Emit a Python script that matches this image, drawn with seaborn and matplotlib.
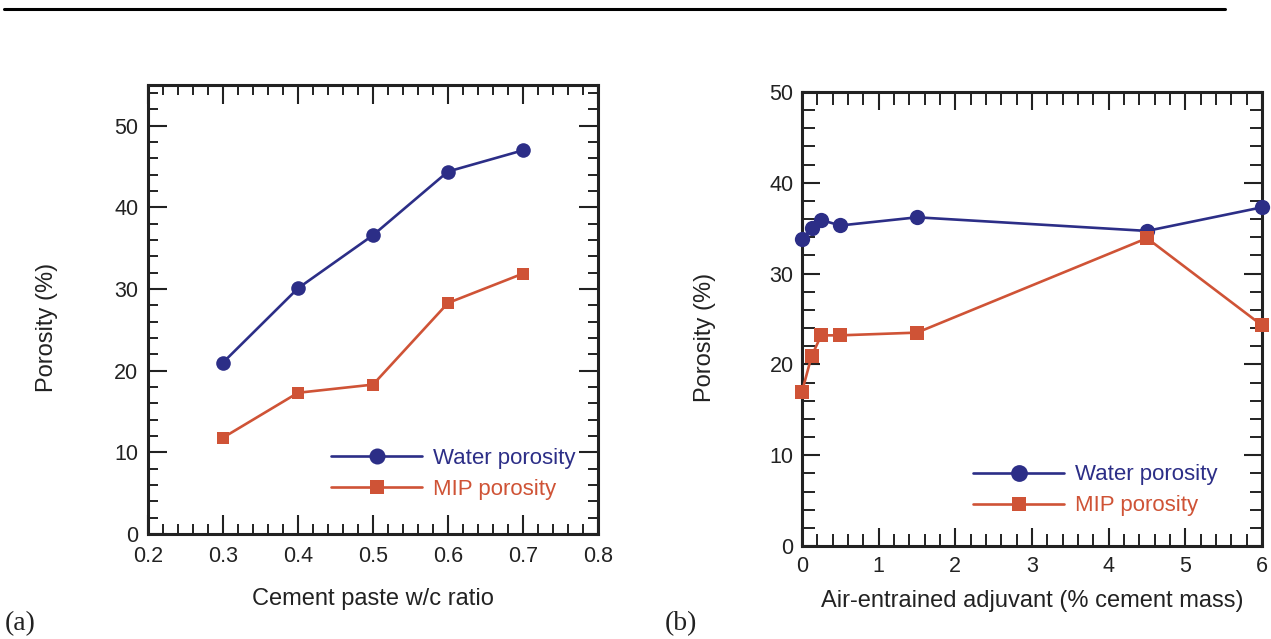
import matplotlib
matplotlib.use("Agg")
import matplotlib.pyplot as plt
from matplotlib.ticker import MultipleLocator
from matplotlib.lines import Line2D
import seaborn as sns
import pandas as pd

# ---- data ----
wc_ratio = [0.3, 0.4, 0.5, 0.6, 0.7]
water_a = [21.0, 30.1, 36.6, 44.4, 47.0]
mip_a = [11.8, 17.3, 18.3, 28.3, 31.9]

adjuvant = [0.0, 0.125, 0.25, 0.5, 1.5, 4.5, 6.0]
water_b = [33.8, 35.0, 35.9, 35.3, 36.2, 34.7, 37.3]
mip_b = [17.0, 20.9, 23.2, 23.2, 23.5, 33.9, 24.3]

series_labels = ["Water porosity", "MIP porosity"]
xlabel_a = "Cement paste w/c ratio"
xlabel_b = "Air-entrained adjuvant (% cement mass)"
ylabel = "Porosity (%)"

BLUE = "#2c2e87"
RED = "#cf5336"
INK = "#222222"

sns.set_theme(style="ticks")
plt.rcParams["font.family"] = ["Liberation Sans", "DejaVu Sans"]

W, H = 1271, 639
fig = plt.figure(figsize=(W / 100, H / 100), dpi=100)

def px_axes(x0, y0, x1, y1):
    return fig.add_axes([x0 / W, 1 - y1 / H, (x1 - x0) / W, (y1 - y0) / H])

ax1 = px_axes(148, 85, 598, 534)
ax2 = px_axes(802, 92, 1262, 546)

def draw(ax, x, w, m, ms_c, ms_s):
    df = pd.DataFrame({"x": x, "w": w, "m": m})
    sns.lineplot(data=df, x="x", y="w", ax=ax, color=BLUE, marker="o",
                 markersize=ms_c, markeredgecolor=BLUE, markeredgewidth=0,
                 linewidth=1.9, label=series_labels[0], clip_on=False, zorder=3)
    sns.lineplot(data=df, x="x", y="m", ax=ax, color=RED, marker="s",
                 markersize=ms_s, markeredgecolor=RED, markeredgewidth=0,
                 linewidth=1.9, label=series_labels[1], clip_on=False, zorder=3)

draw(ax1, wc_ratio, water_a, mip_a, 10.5, 9)
draw(ax2, adjuvant, water_b, mip_b, 11, 9.5)

# axis 1
ax1.set_xlim(0.2, 0.8)
ax1.set_ylim(0, 55)
ax1.xaxis.set_major_locator(MultipleLocator(0.1))
ax1.xaxis.set_minor_locator(MultipleLocator(0.02))
ax1.yaxis.set_major_locator(MultipleLocator(10))
ax1.yaxis.set_minor_locator(MultipleLocator(2))
ax1.tick_params(which="major", length=14, width=1.5)
ax1.tick_params(which="minor", length=7, width=1.4)
ax1.tick_params(axis="y", which="major", pad=7)
ax1.tick_params(axis="x", which="major", pad=9)

# axis 2
ax2.set_xlim(0, 6)
ax2.set_ylim(0, 50)
ax2.xaxis.set_major_locator(MultipleLocator(1))
ax2.xaxis.set_minor_locator(MultipleLocator(0.2))
ax2.yaxis.set_major_locator(MultipleLocator(10))
ax2.yaxis.set_minor_locator(MultipleLocator(2))
ax2.tick_params(which="major", length=13, width=1.5)
ax2.tick_params(which="minor", length=9, width=1.4)
ax2.tick_params(axis="y", which="major", pad=6)
ax2.tick_params(axis="x", which="major", pad=7)

for ax, xl, lx, ly, yx, yy, xy in [
    (ax1, xlabel_a, 0.407, 0.192, -0.20, 0.46, -0.12),
    (ax2, xlabel_b, 0.372, 0.180, -0.187, 0.46, -0.098),
]:
    ax.tick_params(which="both", direction="in", top=True, right=True,
                   colors=INK, labelsize=15.5, labelcolor=INK)
    for s in ax.spines.values():
        s.set_linewidth(2.2)
        s.set_color(INK)
    ax.set_xlabel(xl, fontsize=17, color=INK)
    ax.set_ylabel(ylabel, fontsize=17, color=INK)
    ax.xaxis.set_label_coords(0.5, xy)
    ax.xaxis.label.set_va("top")
    ax.yaxis.set_label_coords(yx, yy)
    leg = ax.legend(loc="upper left", bbox_to_anchor=(lx, ly), frameon=False,
                    fontsize=16, handlelength=4.1, handletextpad=0.5,
                    labelspacing=0.45, borderpad=0, borderaxespad=0,
                    markerscale=1.1, labelcolor="linecolor")
    ax.set_facecolor("white")

fig.text(5 / W, 1 - 630 / H, "(a)", family=["Liberation Serif", "DejaVu Serif"],
         fontsize=20, color=INK, va="baseline", ha="left")
fig.text(665 / W, 1 - 630 / H, "(b)", family=["Liberation Serif", "DejaVu Serif"],
         fontsize=20, color=INK, va="baseline", ha="left")

fig.add_artist(Line2D([4 / W, 1225 / W], [1 - 9 / H, 1 - 9 / H],
                      transform=fig.transFigure, color="black", linewidth=2.2))

fig.savefig("out.png", dpi=100, facecolor="white")
